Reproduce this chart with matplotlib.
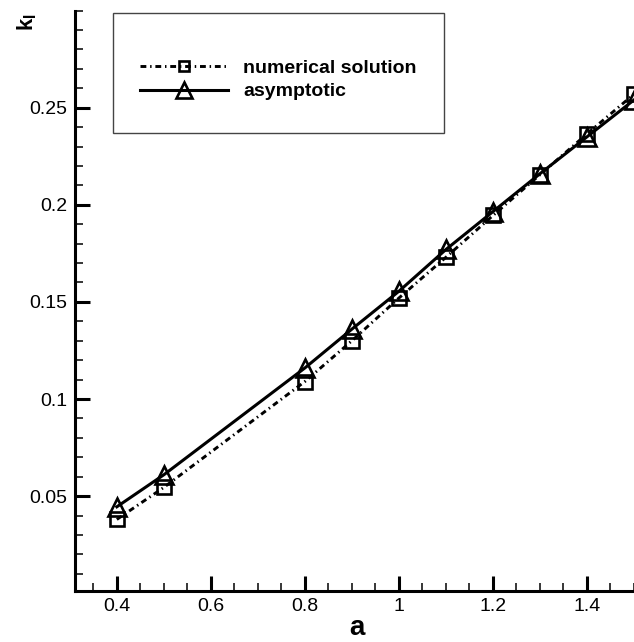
import matplotlib
matplotlib.use("Agg")
import matplotlib.pyplot as plt
from matplotlib.patches import Rectangle
from matplotlib.ticker import FixedLocator, MultipleLocator, FormatStrFormatter

plt.rcParams["font.family"] = ["Liberation Sans", "DejaVu Sans"]
plt.rcParams["mathtext.fontset"] = "custom"
plt.rcParams["mathtext.rm"] = "Liberation Sans"
plt.rcParams["mathtext.bf"] = "Liberation Sans:bold"

# crack length a and stress intensity factor k_I
a_vals = [0.4, 0.5, 0.8, 0.9, 1.0, 1.1, 1.2, 1.3, 1.4, 1.5]
numerical = [0.038, 0.0545, 0.109, 0.130, 0.152, 0.173, 0.1945, 0.2155, 0.2365, 0.257]
asymptotic = [0.0445, 0.061, 0.116, 0.136, 0.1555, 0.177, 0.1965, 0.216, 0.235, 0.254]

x_major = [0.4, 0.6, 0.8, 1.0, 1.2, 1.4]
y_major = [0.05, 0.1, 0.15, 0.2, 0.25]

fig = plt.figure(figsize=(6.34, 6.42), dpi=100)
ax = fig.add_axes([0.1183, 0.0790, 0.8817, 0.9045])

ax.plot(a_vals, numerical, color="black", lw=2.1, linestyle=(0, (2.0, 1.3, 0.5, 1.3)),
        marker="s", markersize=10.5, markerfacecolor="none", markeredgewidth=1.9,
        label="numerical solution")
ax.plot(a_vals, asymptotic, color="black", lw=2.2, linestyle="-",
        marker="^", markersize=13, markerfacecolor="none", markeredgewidth=1.9,
        label="asymptotic")

ax.set_xlim(0.311, 1.5)
ax.set_ylim(0.001, 0.3)

ax.xaxis.set_major_locator(FixedLocator(x_major))
ax.xaxis.set_minor_locator(MultipleLocator(0.05))
ax.yaxis.set_major_locator(FixedLocator(y_major))
ax.yaxis.set_minor_locator(MultipleLocator(0.01))
ax.xaxis.set_major_formatter(FormatStrFormatter("%g"))
ax.yaxis.set_major_formatter(FormatStrFormatter("%g"))

ax.tick_params(which="major", direction="in", length=10.5, width=2.2, labelsize=14)
ax.tick_params(axis="x", which="major", pad=4.5)
ax.tick_params(axis="y", which="major", pad=5.5)
ax.tick_params(which="minor", direction="in", length=5.8, width=1.1)
ax.tick_params(top=False, right=False, which="both")

for side in ["top", "right"]:
    ax.spines[side].set_visible(False)
for side in ["left", "bottom"]:
    ax.spines[side].set_linewidth(2.2)

ax.set_xlabel("a", fontsize=20, fontweight="bold")
ax.xaxis.label.set_va("bottom")
ax.xaxis.set_label_coords(0.504, -0.0855)
ax.set_ylabel(r"$\mathbf{k}_\mathbf{I}$", fontsize=16, rotation=90)
ax.yaxis.set_label_coords(-0.064, 0.981)

# legend box drawn separately so its padding matches
ax.add_patch(Rectangle((0.0674, 0.7897), 0.5933, 0.2058, transform=ax.transAxes,
                       facecolor="white", edgecolor="#444444", lw=1.0, zorder=3))
leg = ax.legend(loc="center left", bbox_to_anchor=(0.1163, 0.8807), frameon=False,
                borderpad=0, borderaxespad=0, handlelength=4.5, handletextpad=0.82,
                labelspacing=0.3, numpoints=1,
                prop={"size": 14, "weight": "bold"})
leg.set_zorder(4)
leg.legend_handles[0].set_markersize(7.5)
leg.legend_handles[1].set_markersize(11.5)

fig.savefig("out.png", dpi=100)
